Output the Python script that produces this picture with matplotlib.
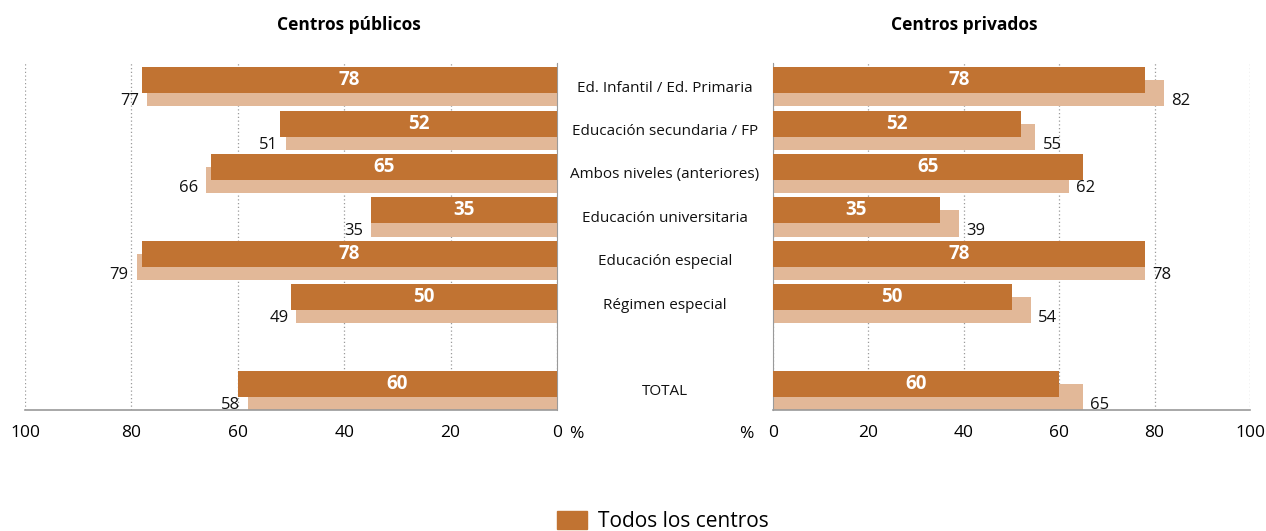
import matplotlib
matplotlib.use("Agg")
from matplotlib import pyplot as plt
import numpy as np

plt.rcParams['font.family'] = ['Open Sans', 'DejaVu Sans']

categories = ["Ed. Infantil / Ed. Primaria", "Educación secundaria / FP",
              "Ambos niveles (anteriores)", "Educación universitaria",
              "Educación especial", "Régimen especial", "TOTAL"]
positions = [0, 1, 2, 3, 4, 5, 7]

todos_publicos = [78, 52, 65, 35, 78, 50, 60]
otros_publicos = [77, 51, 66, 35, 79, 49, 58]
todos_privados = [78, 52, 65, 35, 78, 50, 60]
otros_privados = [82, 55, 62, 39, 78, 54, 65]
ticks = [0, 20, 40, 60, 80, 100]

dark = "#c17332"
light = "#e2b898"
grid_col = "#9a9a9a"
spine_col = "#9a9a9a"

fig = plt.figure(figsize=(12.66, 5.31), dpi=100)
bottom = 1 - 410 / 531
height = (410 - 63) / 531
ax_l = fig.add_axes([25 / 1266, bottom, (557 - 25) / 1266, height])
ax_r = fig.add_axes([773 / 1266, bottom, (1250 - 773) / 1266, height])

pos = np.array(positions, dtype=float)
bh = 0.6
off = 0.3

def draw(ax, todos, otros, side):
    ax.barh(pos + off, otros, height=bh, color=light, zorder=2)
    ax.barh(pos, todos, height=bh, color=dark, zorder=3)
    ax.set_xlim(0, 100)
    ax.set_ylim(pos[-1] + off + bh / 2, -0.4)
    ax.set_xticks(ticks)
    ax.set_xticklabels([str(t) for t in ticks], fontsize=12.5)
    ax.tick_params(axis='x', length=0, pad=11)
    ax.set_yticks([])
    ax.grid(axis='x', linestyle=(0, (1, 2)), color=grid_col, linewidth=0.9, zorder=0)
    for s in ax.spines.values():
        s.set_visible(False)
    ax.spines['bottom'].set_visible(True)
    ax.spines['bottom'].set_color(spine_col)
    ax.spines['bottom'].set_linewidth(1.2)
    if side == 'left':
        ax.invert_xaxis()
        ax.spines['right'].set_visible(True)
        ax.spines['right'].set_color(spine_col)
    else:
        ax.spines['left'].set_visible(True)
        ax.spines['left'].set_color(spine_col)
    for p, t, o in zip(pos, todos, otros):
        ax.text(t / 2, p, str(t), ha='center', va='center', color='white',
                fontsize=13.5, fontweight='bold', zorder=4)
        if side == 'left':
            ax.text(o + 1.5, p + 0.48, str(o), ha='right', va='center',
                    fontsize=12, color='#111111', zorder=4)
        else:
            ax.text(o + 1.5, p + 0.48, str(o), ha='left', va='center',
                    fontsize=12, color='#111111', zorder=4)

draw(ax_l, todos_publicos, otros_publicos, 'left')
draw(ax_r, todos_privados, otros_privados, 'right')

# category labels between the two panels
for p, c in zip(pos, categories):
    ax_l.text(-20.3, p + 0.18, c, ha='center', va='center', fontsize=11,
              color='#111111', clip_on=False)

fig.text(576 / 1266, 1 - 434 / 531, "%", ha='center', va='center', fontsize=12.5)
fig.text(746 / 1266, 1 - 434 / 531, "%", ha='center', va='center', fontsize=12.5)

fig.text(349 / 1266, 1 - 25 / 531, "Centros públicos", ha='center', va='center',
         fontsize=12.5, fontweight='bold')
fig.text(964 / 1266, 1 - 25 / 531, "Centros privados", ha='center', va='center',
         fontsize=12.5, fontweight='bold')

h1 = plt.Rectangle((0, 0), 1, 1, color=dark)
fig.legend([h1], ["Todos los centros"], loc='upper left',
           bbox_to_anchor=(549 / 1266, 1 - 503 / 531), frameon=False, fontsize=15,
           handlelength=1.4, handleheight=0.9, handletextpad=0.55,
           borderaxespad=0, borderpad=0.4)

fig.savefig("out.png", dpi=100)
